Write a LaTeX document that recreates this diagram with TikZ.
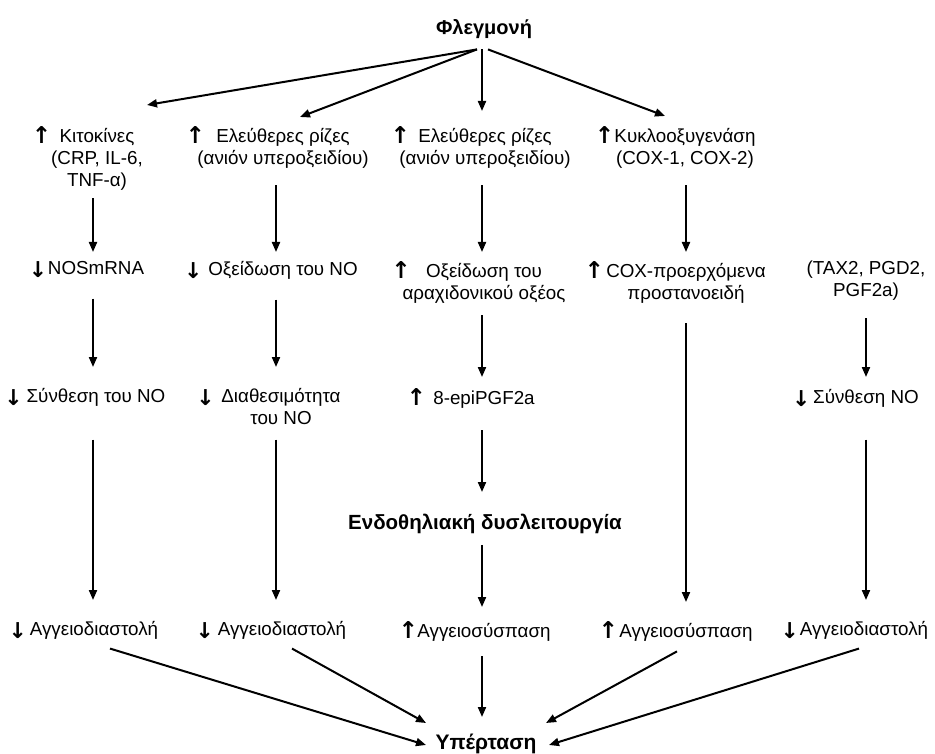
\documentclass[tikz,border=0pt]{standalone}
\usepackage{fontspec}
\setmainfont{Liberation Sans}
\newfontfamily\arrfont{DejaVu Sans}
\usetikzlibrary{arrows.meta}
\newsavebox\arrbox
\newcommand\garr[3]{\sbox\arrbox{\arrfont\bfseries #1}\raisebox{#2}{\resizebox{!}{#3}{\raisebox{\dp\arrbox}{\usebox\arrbox}}}}
\newcommand\uparr[1]{\makebox[0pt][r]{\makebox[0pt][c]{\garr{↑}{-1pt}{17pt}}\hspace{#1pt}}}
\newcommand\dnarr[1]{\makebox[0pt][r]{\makebox[0pt][c]{\garr{↓}{-3pt}{16pt}}\hspace{#1pt}}}
\newcommand\tst{\rule{0pt}{13pt}}
\newcommand\bst{\rule[-5pt]{0pt}{5pt}}
\begin{document}
\begin{tikzpicture}[x=1pt,y=-1pt,
  txt/.style={inner sep=0pt,anchor=north,align=center,font=\fontsize{18.8}{22}\selectfont},
  btxt/.style={inner sep=0pt,anchor=north,align=center,font=\fontsize{20}{23}\selectfont\bfseries},
  arr/.style={line width=2pt,-{Triangle[length=10pt,width=8pt]}}]
\useasboundingbox (0,0) rectangle (935,754);
% top
\node[btxt] (fl) at (484,19) {\tst Φλεγμονή\bst};
% row 1
\node[txt] (k1) at (97,126) {\tst\uparr{18}Κιτοκίνες\\(CRP, IL-6,\\TNF-α)\bst};
\node[txt] (r1) at (283,126) {\tst\uparr{21}Ελεύθερες ρίζες\\(ανιόν υπεροξειδίου)\bst};
\node[txt] (r2) at (485,126) {\tst\uparr{18}Ελεύθερες ρίζες\\(ανιόν υπεροξειδίου)\bst};
\node[txt] (cx) at (685,126) {\tst\uparr{10}Κυκλοοξυγενάση\\(COX-1, COX-2)\bst};
% row 2
\node[txt] (nos) at (96,261) {\tst\dnarr{10}NOSmRNA\bst};
\node[txt] (ox) at (283,261) {\tst\dnarr{15}Οξείδωση του NO\bst};
\node[txt] (oa) at (484,261) {\tst\uparr{25}Οξείδωση του\\αραχιδονικού οξέος\bst};
\node[txt] (cp) at (686,261) {\tst\uparr{12}COX-προερχόμενα\\προστανοειδή\bst};
\node[txt] (tx) at (866,261) {\tst(TAX2, PGD2,\\PGF2a)\bst};
% row 3
\node[txt] (sy) at (96,388) {\tst\dnarr{13}Σύνθεση του NO\bst};
\node[txt] (dia) at (281,388) {\tst\dnarr{16}Διαθεσιμότητα\\του NO\bst};
\node[txt] (epi) at (484,388) {\tst\uparr{17}8-epiPGF2a\bst};
\node[txt] (sy2) at (866,389) {\tst\dnarr{12}Σύνθεση NO\bst};
\node[btxt,font=\fontsize{20.5}{23}\selectfont\bfseries] (endo) at (485,514) {\tst Ενδοθηλιακή δυσλειτουργία\bst};
% row 4
\node[txt] (a1) at (94,621) {\tst\dnarr{12}Αγγειοδιαστολή\bst};
\node[txt] (a2) at (282,621) {\tst\dnarr{13}Αγγειοδιαστολή\bst};
\node[txt] (a3) at (484,621) {\tst\uparr{9}Αγγειοσύσπαση\bst};
\node[txt] (a4) at (686,621) {\tst\uparr{11}Αγγειοσύσπαση\bst};
\node[txt] (a5) at (864,621) {\tst\dnarr{10}Αγγειοδιαστολή\bst};
\node[btxt,font=\fontsize{21}{23}\selectfont\bfseries] (hyp) at (486,734) {\tst Υπέρταση\bst};
% connectors from top
\draw[arr] ([shift={(-7,10)}]fl.south) -- ([shift={(50,-21)}]k1.north);
\draw[arr] ([shift={(-7,10)}]fl.south) -- ([shift={(17,-9)}]r1.north);
\draw[arr] ([shift={(-2,10)}]fl.south) -- ([shift={(-3,-15)}]r2.north);
\draw[arr] ([shift={(4,10)}]fl.south) -- ([shift={(-20,-10)}]cx.north);
% row1 -> row2
\draw[arr] ([shift={(-4,7)}]k1.south) -- ([shift={(-3,-9)}]nos.north);
\draw[arr] ([shift={(-7,16)}]r1.south) -- ([shift={(-7,-9)}]ox.north);
\draw[arr] ([shift={(-3,16)}]r2.south) -- ([shift={(-2,-9)}]oa.north);
\draw[arr] ([shift={(1,16)}]cx.south) -- ([shift={(0,-9)}]cp.north);
% row2 -> row3
\draw[arr] ([shift={(-3,19)}]nos.south) -- ([shift={(-3,-21)}]sy.north);
\draw[arr] ([shift={(-7,19)}]ox.south) -- ([shift={(-5,-21)}]dia.north);
\draw[arr] ([shift={(-2,11)}]oa.south) -- ([shift={(-2,-11)}]epi.north);
\draw[arr] ([shift={(0,16)}]tx.south) -- ([shift={(0,-12)}]sy2.north);
\draw[arr] ([shift={(0,19)}]cp.south) -- ([shift={(0,-19)}]a4.north);
% row3 -> row4
\draw[arr] ([shift={(-3,32)}]sy.south) -- ([shift={(-1,-21)}]a1.north);
\draw[arr] ([shift={(-5,10)}]dia.south) -- ([shift={(-6,-21)}]a2.north);
\draw[arr] ([shift={(-2,21)}]epi.south) -- ([shift={(-3,-22)}]endo.north);
\draw[arr] ([shift={(-3,10)}]endo.south) -- ([shift={(-2,-14)}]a3.north);
\draw[arr] ([shift={(0,31)}]sy2.south) -- ([shift={(2,-21)}]a5.north);
% to hypertension
\draw[arr] ([shift={(16,8)}]a1.south) -- ([shift={(-60,11)}]hyp.north);
\draw[arr] ([shift={(10,8)}]a2.south) -- ([shift={(-60,-11)}]hyp.north);
\draw[arr] ([shift={(-2,14)}]a3.south) -- ([shift={(-4,-17)}]hyp.north);
\draw[arr] ([shift={(-9,9)}]a4.south) -- ([shift={(60,-11)}]hyp.north);
\draw[arr] ([shift={(-5,8)}]a5.south) -- ([shift={(63,11)}]hyp.north);
\end{tikzpicture}
\end{document}
